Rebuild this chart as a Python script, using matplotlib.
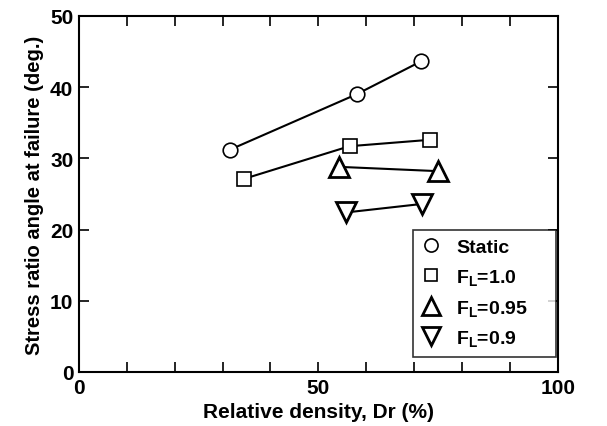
import matplotlib
matplotlib.use("Agg")
import matplotlib.pyplot as plt

plt.rcParams['font.family'] = ['Liberation Sans', 'DejaVu Sans']
plt.rcParams['font.weight'] = 'bold'
plt.rcParams['mathtext.fontset'] = 'custom'
plt.rcParams['mathtext.rm'] = 'Liberation Sans:bold'
plt.rcParams['mathtext.default'] = 'rm'

# Relative density (%) and stress ratio angle (deg.) per test series
static_dr = [31.5, 58.0, 71.4]
static_ang = [31.2, 39.0, 43.6]
fl10_dr = [34.4, 56.5, 73.3]
fl10_ang = [27.1, 31.7, 32.6]
fl095_dr = [54.4, 74.9]
fl095_ang = [28.8, 28.2]
fl09_dr = [55.8, 71.7]
fl09_ang = [22.4, 23.6]

series = [
    (static_dr, static_ang, 'o', 10.5, 1.2, 'Static'),
    (fl10_dr, fl10_ang, 's', 10, 1.2, r'F$_{L}$=1.0'),
    (fl095_dr, fl095_ang, '^', 14, 2.0, r'F$_{L}$=0.95'),
    (fl09_dr, fl09_ang, 'v', 14, 2.0, r'F$_{L}$=0.9'),
]

fig = plt.figure(figsize=(6.07, 4.27), dpi=100)
ax = fig.add_axes([0.130, 0.1265, 0.789, 0.834])

handles = []
for x, y, m, ms, mew, lab in series:
    ax.plot(x, y, '-', color='black', lw=1.5, zorder=1)
    h, = ax.plot(x, y, linestyle='none', marker=m, ms=ms, mew=mew,
                 mfc='white', mec='black', zorder=2, label=lab)
    handles.append(h)

ax.set_xlim(0, 100)
ax.set_ylim(0, 50)
ax.set_xticks(range(0, 101, 10))
ax.set_xticklabels(['0', '', '', '', '', '50', '', '', '', '', '100'])
ax.set_yticks(range(0, 51, 10))
ax.tick_params(direction='in', length=7, width=1.2, top=True, right=True,
               labelsize=15, pad=4)
for s in ax.spines.values():
    s.set_linewidth(1.5)

ax.set_xlabel('Relative density, Dr (%)', fontsize=15, fontweight='bold')
ax.set_ylabel('Stress ratio angle at failure (deg.)', fontsize=14.5, fontweight='bold')

leg = ax.legend(handles=handles, loc='lower left',
                bbox_to_anchor=(0.697, 0.042, 0.300, 0.378), mode='expand',
                fontsize=14, frameon=True, fancybox=False, edgecolor='black',
                borderaxespad=0, handlelength=1.0, handletextpad=0.8,
                labelspacing=0.55, borderpad=0.45)
leg.get_frame().set_linewidth(1.2)
for lh in leg.legend_handles:
    lh.set_markersize(lh.get_markersize() * 0.9)

fig.savefig('out.png', dpi=100)
